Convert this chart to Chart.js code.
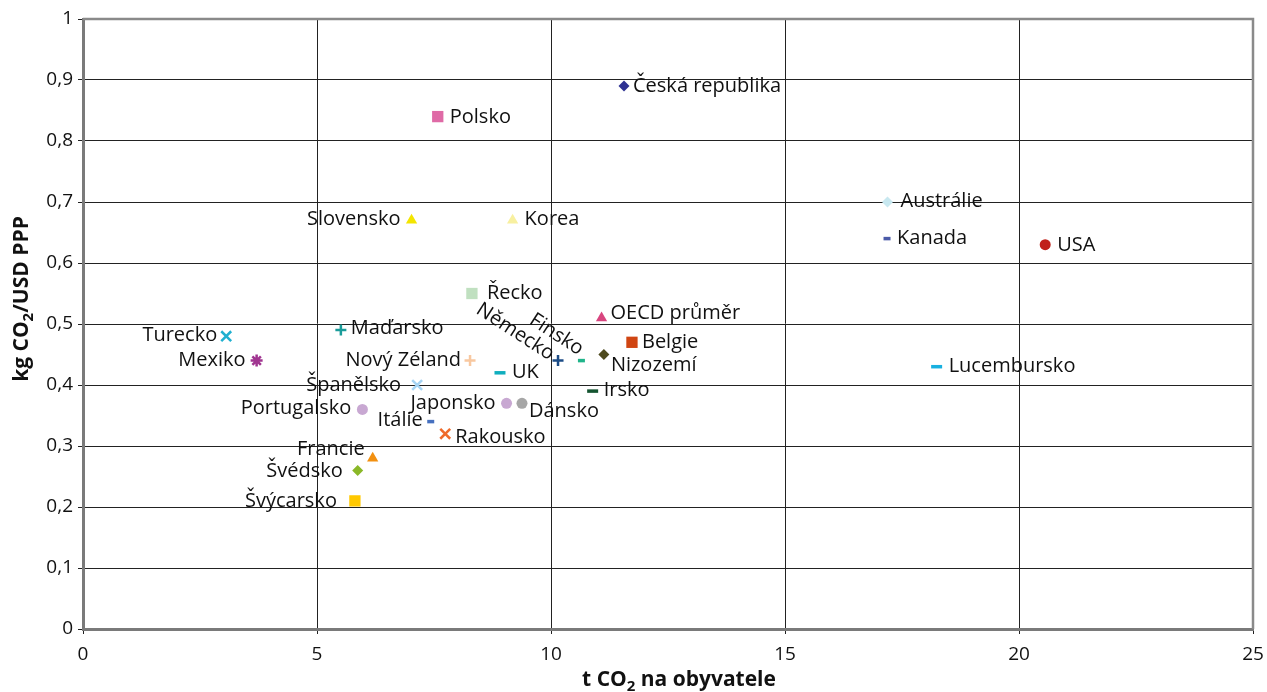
<!DOCTYPE html>
<html lang="cs">
<head>
<meta charset="utf-8">
<title>Emise CO2 – OECD</title>
<script src="https://cdn.jsdelivr.net/npm/chart.js@4.4.1/dist/chart.umd.min.js"></script>
<style>
  html, body { margin: 0; padding: 0; background: #ffffff; }
  #wrap { position: relative; width: 1267px; height: 692px; }
</style>
</head>
<body>
<div id="wrap"><canvas id="chart"></canvas></div>
<script>
// Countries with CO2 per inhabitant (t) and CO2 intensity of GDP (kg CO2 / USD PPP)
const countries = [
  'Česká republika', 'Polsko', 'Slovensko', 'Korea', 'Austrálie', 'Kanada', 'USA',
  'Řecko', 'OECD průměr', 'Belgie', 'Nizozemí', 'Finsko', 'Německo', 'UK', 'Irsko',
  'Lucembursko', 'Turecko', 'Mexiko', 'Maďarsko', 'Nový Zéland', 'Španělsko',
  'Portugalsko', 'Japonsko', 'Dánsko', 'Itálie', 'Rakousko', 'Francie', 'Švédsko',
  'Švýcarsko'
];
const co2PerCapita = [
  11.56, 7.58, 7.02, 9.18, 17.19, 17.18, 20.56,
  8.31, 11.08, 11.73, 11.13, 10.65, 10.15, 8.91, 10.89,
  18.24, 3.06, 3.71, 5.51, 8.27, 7.14,
  5.97, 9.05, 9.38, 7.43, 7.74, 6.19, 5.87,
  5.81
];
const co2PerGdp = [
  0.89, 0.84, 0.67, 0.67, 0.70, 0.64, 0.63,
  0.55, 0.51, 0.47, 0.45, 0.44, 0.44, 0.42, 0.39,
  0.43, 0.48, 0.44, 0.49, 0.44, 0.40,
  0.36, 0.37, 0.37, 0.34, 0.32, 0.28, 0.26,
  0.21
];
const xTickLabels = ['0', '5', '10', '15', '20', '25'];
const yTickLabels = ['0', '0,1', '0,2', '0,3', '0,4', '0,5', '0,6', '0,7', '0,8', '0,9', '1'];

// Marker look per country: [shape, colour, radius]
const markerStyles = {
  'Česká republika': ['rectRot', '#2e3192', 5.5],
  'Polsko': ['rect', '#df6aa6', 8],
  'Slovensko': ['triangle', '#f3e500', 6.5],
  'Korea': ['triangle', '#f8f0a0', 6.5],
  'Austrálie': ['rectRot', '#c8e8f0', 5.5],
  'Kanada': ['line', '#4a5aa8', 3.5],
  'USA': ['circle', '#c0201a', 5.5],
  'Řecko': ['rect', '#c0e0c0', 8],
  'OECD průměr': ['triangle', '#d8457f', 6.5],
  'Belgie': ['rect', '#d04512', 8],
  'Nizozemí': ['rectRot', '#4e4a1e', 5.5],
  'Finsko': ['line', '#20b48a', 3.5],
  'Německo': ['cross', '#1c4c86', 5.5],
  'UK': ['line', '#10aebe', 5.5],
  'Irsko': ['line', '#145430', 5.5],
  'Lucembursko': ['line', '#18b0e0', 5.5],
  'Turecko': ['crossRot', '#20b0d0', 7],
  'Mexiko': ['star', '#a03590', 6],
  'Maďarsko': ['cross', '#1a9c9a', 5.5],
  'Nový Zéland': ['cross', '#f8c8a0', 5.5],
  'Španělsko': ['crossRot', '#a6d4f4', 7],
  'Portugalsko': ['circle', '#c8a8d2', 5.5],
  'Japonsko': ['circle', '#c8a8d2', 5.5],
  'Dánsko': ['circle', '#a6a6a6', 5.5],
  'Itálie': ['line', '#4670bf', 3.5],
  'Rakousko': ['crossRot', '#ef6a2a', 7],
  'Francie': ['triangle', '#f29010', 6.5],
  'Švédsko': ['rectRot', '#8ab828', 5.5],
  'Švýcarsko': ['rect', '#ffc800', 8]
};

// Where each name sits relative to its marker (pixels; angle in degrees)
const labelLayout = {
  'Česká republika': { side: 'right', dx: 9, dy: 6 },
  'Polsko': { side: 'right', dx: 12, dy: 6 },
  'Slovensko': { side: 'left', dx: -11, dy: 5 },
  'Korea': { side: 'right', dx: 12, dy: 5 },
  'Austrálie': { side: 'right', dx: 13, dy: 5 },
  'Kanada': { side: 'right', dx: 10, dy: 5 },
  'USA': { side: 'right', dx: 12, dy: 6 },
  'Řecko': { side: 'right', dx: 15, dy: 5 },
  'OECD průměr': { side: 'right', dx: 9, dy: 1 },
  'Belgie': { side: 'right', dx: 10, dy: 6 },
  'Nizozemí': { side: 'right', dx: 7, dy: 16 },
  'Finsko': { side: 'left', dx: -3, dy: -5, angle: 33 },
  'Německo': { side: 'left', dx: -9, dy: 0, angle: 33 },
  'UK': { side: 'right', dx: 12, dy: 5 },
  'Irsko': { side: 'right', dx: 11, dy: 5 },
  'Lucembursko': { side: 'right', dx: 12, dy: 5 },
  'Turecko': { side: 'left', dx: -9, dy: 5 },
  'Mexiko': { side: 'left', dx: -11, dy: 5 },
  'Maďarsko': { side: 'right', dx: 10, dy: 4 },
  'Nový Zéland': { side: 'left', dx: -9, dy: 5 },
  'Španělsko': { side: 'left', dx: -16, dy: 6 },
  'Portugalsko': { side: 'left', dx: -11, dy: 5 },
  'Japonsko': { side: 'left', dx: -11, dy: 6 },
  'Dánsko': { side: 'right', dx: 7, dy: 14 },
  'Itálie': { side: 'left', dx: -8, dy: 4 },
  'Rakousko': { side: 'right', dx: 10, dy: 9 },
  'Francie': { side: 'left', dx: -8, dy: -3 },
  'Švédsko': { side: 'left', dx: -15, dy: 7 },
  'Švýcarsko': { side: 'left', dx: -18, dy: 6 }
};

const FONT = '"Open Sans", "DejaVu Sans", sans-serif';
const lineShapes = ['line', 'cross', 'crossRot', 'star'];

const points = countries.map((name, i) => ({ x: co2PerCapita[i], y: co2PerGdp[i] }));
const shapes = countries.map(n => markerStyles[n][0]);
const colours = countries.map(n => markerStyles[n][1]);
const radii = countries.map(n => markerStyles[n][2]);
const borderWidths = countries.map(n => {
  const s = markerStyles[n][0];
  if (s === 'line') return 3.5;
  if (lineShapes.includes(s)) return 2.5;
  return 0;
});

// Country names next to the markers
const pointLabels = {
  id: 'pointLabels',
  afterDatasetsDraw(chart) {
    const ctx = chart.ctx;
    const meta = chart.getDatasetMeta(0);
    ctx.save();
    ctx.font = '20px ' + FONT;
    ctx.fillStyle = '#111';
    ctx.textBaseline = 'alphabetic';
    meta.data.forEach((el, i) => {
      const name = countries[i];
      const lay = labelLayout[name];
      ctx.save();
      ctx.translate(el.x + lay.dx, el.y + lay.dy);
      if (lay.angle) ctx.rotate(lay.angle * Math.PI / 180);
      ctx.textAlign = lay.side === 'left' ? 'right' : 'left';
      ctx.fillText(name, 0, 0);
      ctx.restore();
    });
    ctx.restore();
  }
};

// Axis titles with a subscripted "2"
function drawTitle(ctx, parts) {
  const mainFont = 'bold 21px ' + FONT;
  const subFont = 'bold 15px ' + FONT;
  let total = 0;
  parts.forEach(p => { ctx.font = p.sub ? subFont : mainFont; total += ctx.measureText(p.t).width; });
  let x = -total / 2;
  parts.forEach(p => {
    ctx.font = p.sub ? subFont : mainFont;
    ctx.fillText(p.t, x, p.sub ? 5 : 0);
    x += ctx.measureText(p.t).width;
  });
}

const frameAndTitles = {
  id: 'frameAndTitles',
  afterDraw(chart) {
    const { ctx, chartArea: a } = chart;
    ctx.save();
    // top and right edges of the plot frame
    ctx.strokeStyle = '#8a8a8a';
    ctx.lineWidth = 2.5;
    ctx.beginPath();
    ctx.moveTo(a.left, a.top);
    ctx.lineTo(a.right, a.top);
    ctx.lineTo(a.right, a.bottom);
    ctx.stroke();

    ctx.fillStyle = '#111';
    ctx.textAlign = 'left';
    ctx.textBaseline = 'alphabetic';
    // x-axis title
    ctx.save();
    ctx.translate(679, 686);
    drawTitle(ctx, [{ t: 't CO' }, { t: '2', sub: true }, { t: ' na obyvatele' }]);
    ctx.restore();
    // y-axis title
    ctx.save();
    ctx.translate(28, 299);
    ctx.rotate(-Math.PI / 2);
    drawTitle(ctx, [{ t: 'kg CO' }, { t: '2', sub: true }, { t: '/USD PPP' }]);
    ctx.restore();
    ctx.restore();
  }
};

new Chart(document.getElementById('chart'), {
  type: 'scatter',
  data: {
    datasets: [{
      data: points,
      pointStyle: shapes,
      pointRadius: radii,
      pointBackgroundColor: colours,
      pointBorderColor: colours,
      pointBorderWidth: borderWidths,
      showLine: false
    }]
  },
  options: {
    responsive: true,
    maintainAspectRatio: false,
    animation: false,
    events: [],
    layout: { padding: { top: 19, right: 14, left: 0, bottom: 0 } },
    plugins: { legend: { display: false }, tooltip: { enabled: false }, title: { display: false } },
    scales: {
      x: {
        type: 'linear',
        min: 0, max: 25,
        afterFit(scale) { scale.height = 63; scale.paddingRight = 0; scale.paddingLeft = 0; },
        ticks: {
          stepSize: 5,
          color: '#111',
          font: { family: FONT, size: 19 },
          padding: 9,
          maxRotation: 0,
          callback: (v, i) => xTickLabels[i]
        },
        grid: { color: '#222', lineWidth: 1, tickLength: 5, drawTicks: true },
        border: { color: '#7a7a7a', width: 3 }
      },
      y: {
        type: 'linear',
        min: 0, max: 1,
        afterFit(scale) { scale.width = 83; scale.paddingTop = 0; scale.paddingBottom = 0; },
        ticks: {
          stepSize: 0.1,
          color: '#111',
          font: { family: FONT, size: 19 },
          padding: 5,
          callback: (v, i) => yTickLabels[i]
        },
        grid: { color: '#222', lineWidth: 1, tickLength: 5, drawTicks: true },
        border: { color: '#7a7a7a', width: 3 }
      }
    }
  },
  plugins: [pointLabels, frameAndTitles]
});
</script>
</body>
</html>
